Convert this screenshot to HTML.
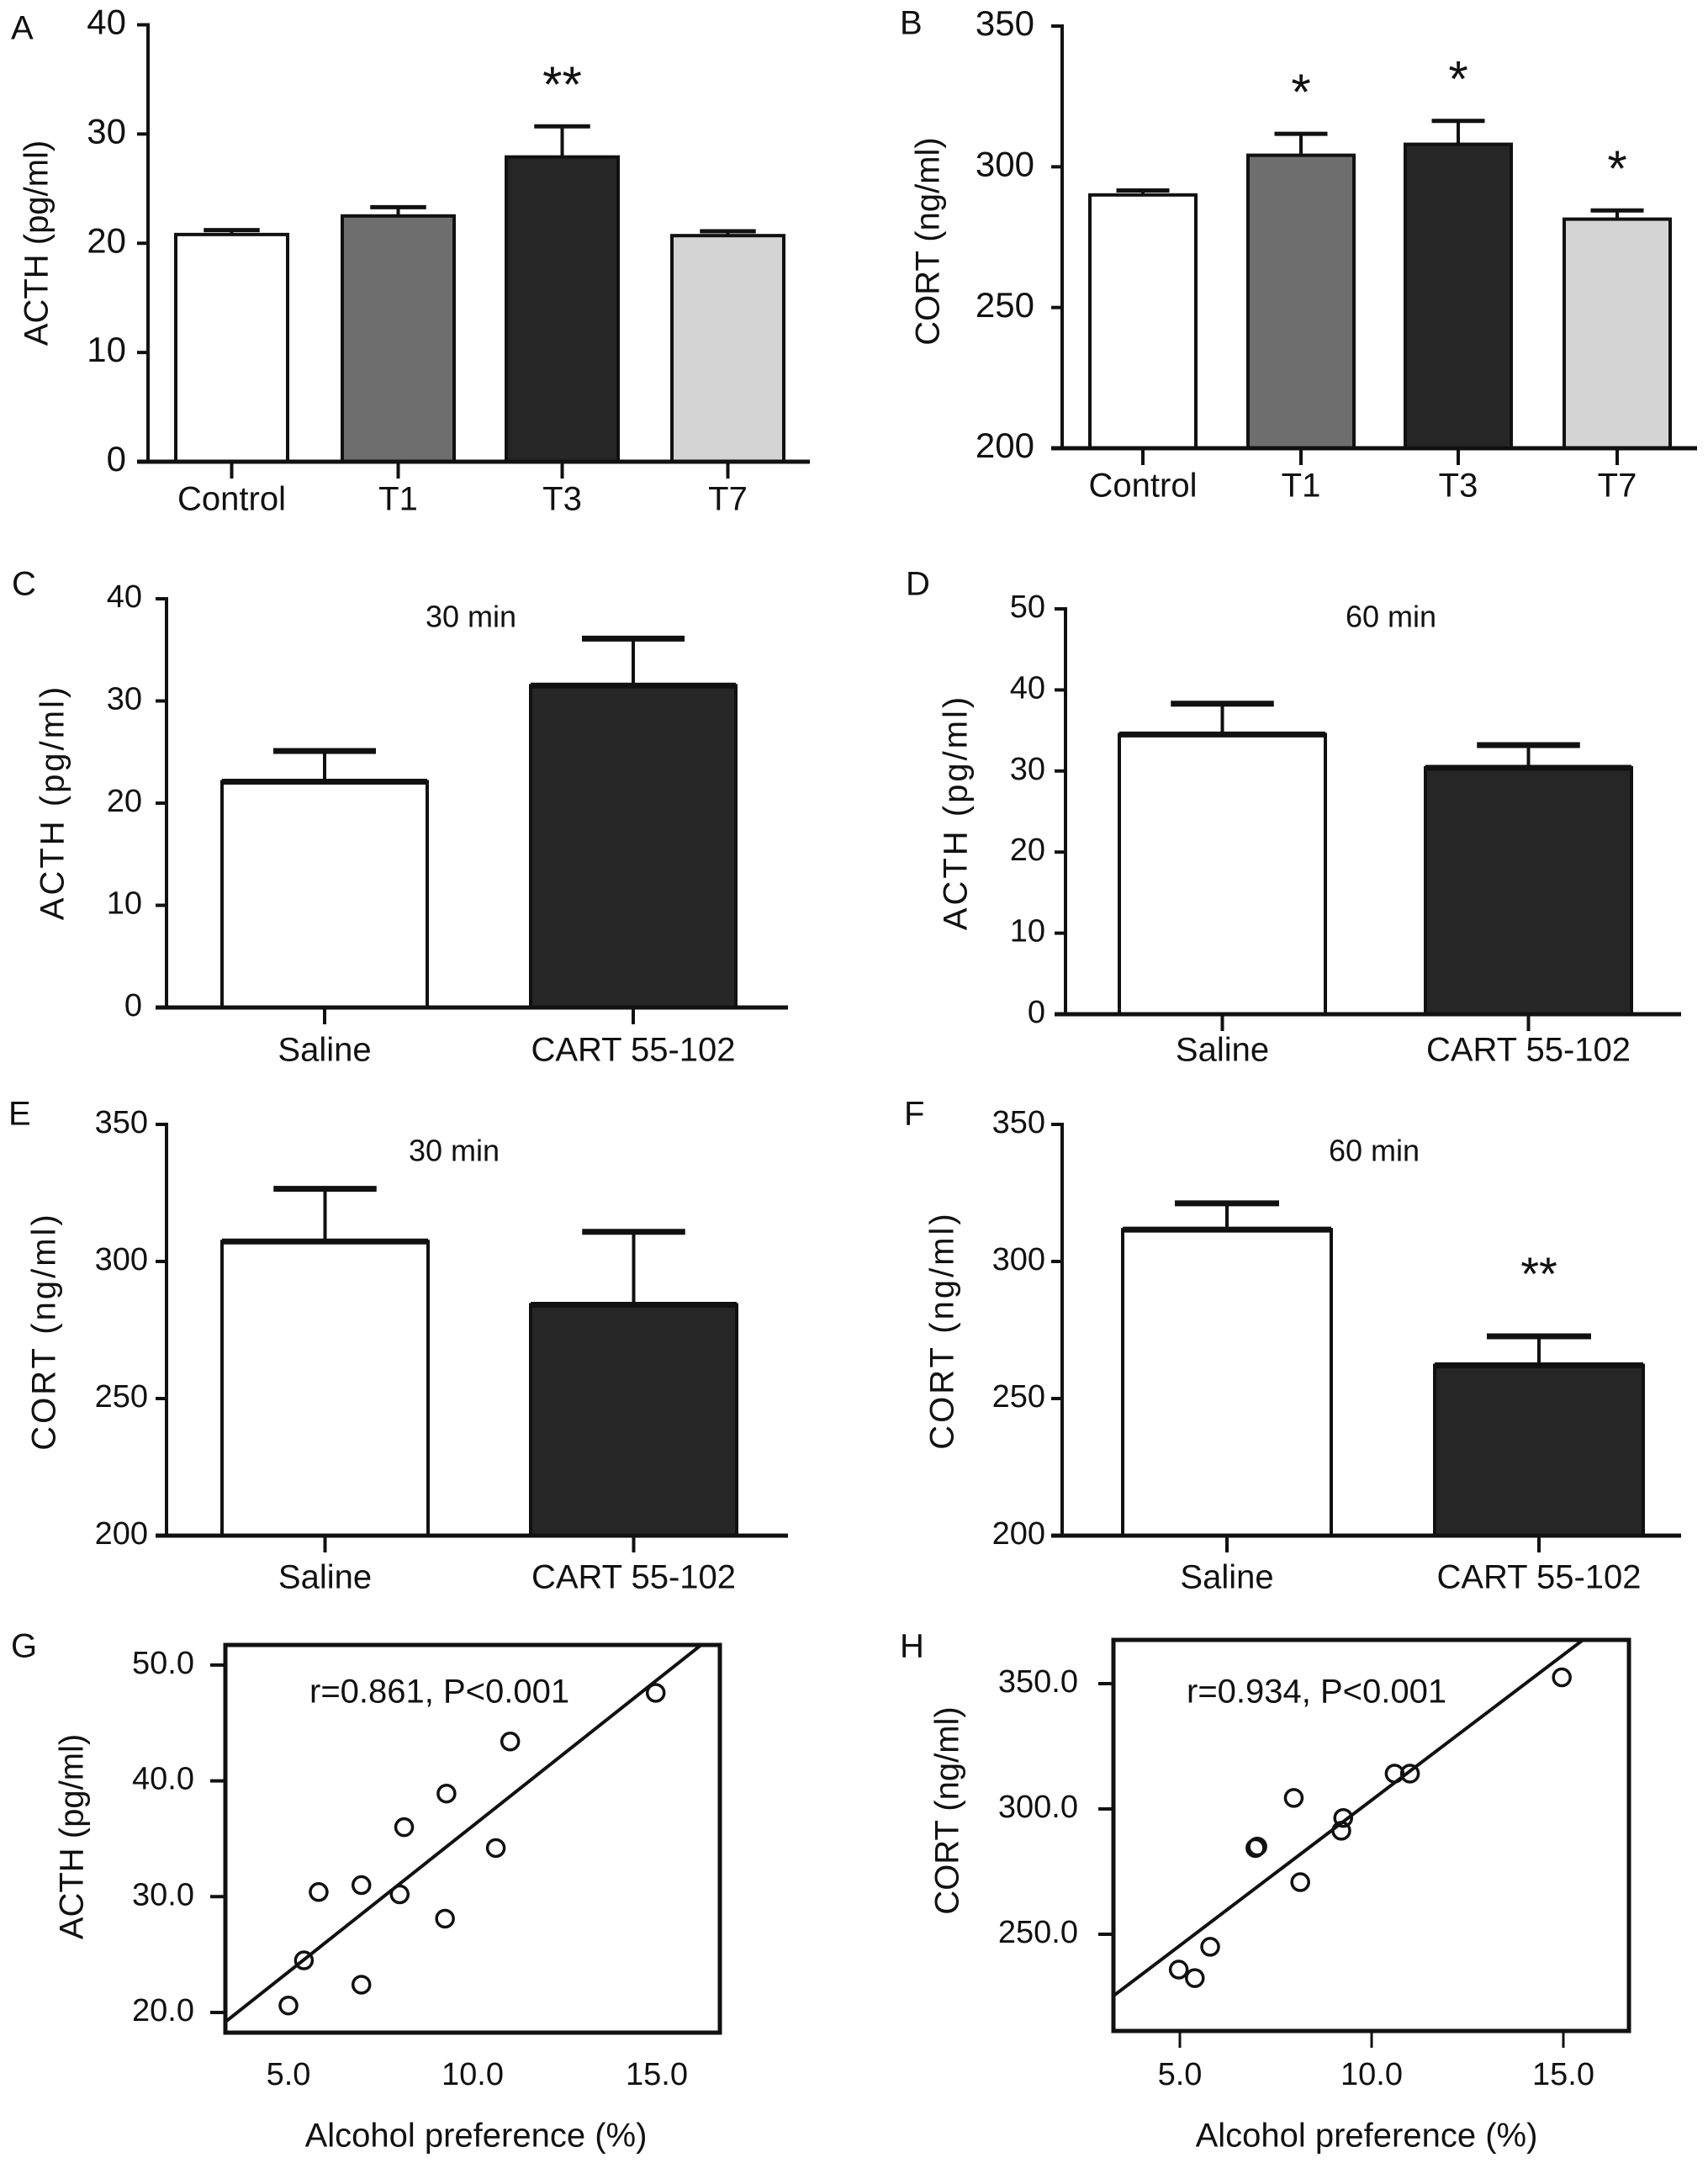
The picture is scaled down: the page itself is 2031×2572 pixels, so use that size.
<!DOCTYPE html>
<html><head><meta charset="utf-8">
<style>
html,body{margin:0;padding:0;background:#fff;}
svg{display:block;font-family:"Liberation Sans",Arial,sans-serif;}
</style></head>
<body>
<svg id="fig" width="2031" height="2572" viewBox="0 0 2031 2572" xmlns="http://www.w3.org/2000/svg"></svg>
<script>
// ---- Panel A data ----
const aCats = ["Control","T1","T3","T7"];
const aVals = [20.8, 22.5, 27.9, 20.7];
const aErrs = [0.4, 0.8, 2.8, 0.4];
const aStars = ["", "", "**", ""];
const aTicks = [0,10,20,30,40];
// ---- Panel B data ----
const bCats = ["Control","T1","T3","T7"];
const bVals = [290.0, 304.1, 308.0, 281.4];
const bErrs = [1.6, 7.6, 8.3, 3.1];
const bStars = ["", "*", "*", "*"];
const bTicks = [200,250,300,350];
// ---- Panel C data ----
const cCats = ["Saline","CART 55-102"];
const cVals = [22.1, 31.5];
const cErrs = [3.0, 4.6];
const cTicks = [0,10,20,30,40];
// ---- Panel D data ----
const dCats = ["Saline","CART 55-102"];
const dVals = [34.5, 30.4];
const dErrs = [3.8, 2.8];
const dTicks = [0,10,20,30,40,50];
// ---- Panel E data ----
const eCats = ["Saline","CART 55-102"];
const eVals = [307.3, 284.2];
const eErrs = [19.2, 26.6];
const eTicks = [200,250,300,350];
// ---- Panel F data ----
const fCats = ["Saline","CART 55-102"];
const fVals = [311.6, 262.1];
const fErrs = [9.6, 10.6];
const fStars = ["", "**"];
const fTicks = [200,250,300,350];
// ---- Panel G data ----
const gX = [5.0, 5.42, 5.82, 6.98, 6.98, 8.02, 8.14, 9.25, 9.29, 10.63, 11.02, 14.97];
const gY = [20.6, 24.5, 30.4, 31.0, 22.4, 30.2, 36.0, 28.1, 38.9, 34.2, 43.4, 47.6];
const gFit = [10.9, 2.52]; // intercept, slope
const gXTicks = [5,10,15];
const gYTicks = [20,30,40,50];
// ---- Panel H data ----
const hX = [4.97, 5.39, 5.79, 6.97, 7.02, 7.97, 8.14, 9.21, 9.26, 10.6, 11.0, 14.96];
const hY = [235.9, 232.5, 245.0, 284.4, 285.0, 304.4, 270.8, 291.3, 296.4, 314.1, 314.1, 352.5];
const hFit = [187.5, 11.6];
const hXTicks = [5,10,15];
const hYTicks = [250,300,350];

const NS = "http://www.w3.org/2000/svg";
const svg = document.getElementById("fig");
function mk(tag, attrs, parent, text){
  const e = document.createElementNS(NS, tag);
  for (const k in attrs) e.setAttribute(k, attrs[k]);
  if (text !== undefined) e.textContent = text;
  (parent||svg).appendChild(e);
  return e;
}
const INK = "#111";

function barPanel(p){
  const g = mk("g", {});
  
  
  const y = v => p.y0 + (v - p.ymin) * (p.y1 - p.y0) / (p.ymax - p.ymin);
  const L = mk("text", {x:p.lx, y:p.ly, "font-size":40, fill:INK, "dominant-baseline":"middle"}, g, p.letter);
  
  
  p.cats.forEach((c,i)=>{
    const bx = p.bx[i], bw = p.bw;
    const top = y(p.vals[i]);
    const r = mk("rect", {x:bx, y:top, width:bw, height:p.y0-top, fill:p.fills[i], stroke:INK, "stroke-width":4}, g);
    
    
    const cx = bx + bw/2, et = y(p.vals[i] + p.errs[i]);
    const e1 = mk("line", {x1:cx, x2:cx, y1:top, y2:et, stroke:INK, "stroke-width":4}, g);
    
    
    const e2 = mk("line", {x1:cx-bw*0.25, x2:cx+bw*0.25, y1:et, y2:et, stroke:INK, "stroke-width":p.capW||5}, g);
    
    
    if (p.thickTop){
      const tt = mk("line", {x1:bx, x2:bx+bw, y1:top, y2:top, stroke:INK, "stroke-width":7}, g);
      
      
    }
    if (p.stars && p.stars[i]){
      const s = mk("text", {x:cx, y:et - p.starGap, "font-size":p.starSize||60, fill:INK, "text-anchor":"middle", "dominant-baseline":"middle"}, g, p.stars[i]);
      
      
    }
    const xt = mk("line", {x1:cx, x2:cx, y1:p.y0, y2:p.y0+20, stroke:INK, "stroke-width":4}, g);
    
    
    const xl = mk("text", {x:cx, y:p.xLabY, "font-size":p.xFont, fill:INK, "text-anchor":"middle", "dominant-baseline":"middle"}, g, c);
    
    
  });
  const ya = mk("line", {x1:p.ax, x2:p.ax, y1:y(p.ymax)-2, y2:p.y0+2, stroke:INK, "stroke-width":4}, g);
  
  
  const xa = mk("line", {x1:p.ax-13, x2:p.xEnd, y1:p.y0, y2:p.y0, stroke:INK, "stroke-width":5}, g);
  
  
  p.ticks.forEach(t=>{
    const ty = y(t);
    const tk = mk("line", {x1:p.ax-13, x2:p.ax, y1:ty, y2:ty, stroke:INK, "stroke-width":4}, g);
    
    
    const tl = mk("text", {x:p.tlx, y:ty, "font-size":p.yFont, fill:INK, "text-anchor":"end", "dominant-baseline":"middle"}, g, String(t));
    
    
  });
  const yt = mk("text", {x:0, y:0, "font-size":40, fill:INK, "text-anchor":"middle", "dominant-baseline":"middle", "letter-spacing":p.ls||0, transform:`translate(${p.ytx},${p.yty}) rotate(-90)`}, g, p.ytitle);
  
  
  if (p.title){
    const tt = mk("text", {x:p.titleX, y:p.titleY, "font-size":36, fill:INK, "text-anchor":"middle", "dominant-baseline":"middle"}, g, p.title);
    
    
  }
}

const F4 = ["#ffffff","#6e6e6e","#262626","#d4d4d4"];
const F2 = ["#ffffff","#262626"];

barPanel({name:"panel-a", letter:"A", lx:13, ly:36, cats:aCats, vals:aVals, errs:aErrs, stars:aStars, starGap:45, ticks:aTicks,
  ymin:0, ymax:40, y0:549, y1:29.5, ax:176, xEnd:963, bx:[209,407,602,799], bw:133, fills:F4,
  tlx:150, yFont:42, xFont:40, xLabY:596, ytitle:"ACTH (pg/ml)", ytx:46, yty:289});
barPanel({name:"panel-b", letter:"B", lx:1070, ly:30, cats:bCats, vals:bVals, errs:bErrs, stars:bStars, starGap:45, ticks:bTicks,
  ymin:200, ymax:350, y0:533, y1:31, ax:1263, xEnd:2018, bx:[1296,1484,1671,1860], bw:126, fills:F4,
  tlx:1230, yFont:42, xFont:40, xLabY:580, ytitle:"CORT (ng/ml)", ytx:1106, yty:287});
barPanel({name:"panel-c", letter:"C", lx:14, ly:697, cats:cCats, vals:cVals, errs:cErrs, ticks:cTicks, thickTop:true, capW:7,
  ymin:0, ymax:40, y0:1198, y1:712, ax:198, xEnd:937, bx:[264,631], bw:244, fills:F2,
  tlx:169, yFont:38, xFont:40, xLabY:1251, ytitle:"ACTH (pg/ml)", ytx:65, yty:954, ls:3,
  title:"30 min", titleX:560, titleY:736});
barPanel({name:"panel-d", letter:"D", lx:1077, ly:697, cats:dCats, vals:dVals, errs:dErrs, ticks:dTicks, thickTop:true, capW:7,
  ymin:0, ymax:50, y0:1206, y1:724, ax:1267, xEnd:1999, bx:[1331,1695], bw:245, fills:F2,
  tlx:1243, yFont:38, xFont:40, xLabY:1251, ytitle:"ACTH (pg/ml)", ytx:1139, yty:966, ls:3,
  title:"60  min", titleX:1654, titleY:736});
barPanel({name:"panel-e", letter:"E", lx:10, ly:1327, cats:eCats, vals:eVals, errs:eErrs, ticks:eTicks, thickTop:true, capW:7,
  ymin:200, ymax:350, y0:1826, y1:1337, ax:198, xEnd:937, bx:[264,631], bw:245, fills:F2,
  tlx:176, yFont:38, xFont:40, xLabY:1878, ytitle:"CORT (ng/ml)", ytx:55, yty:1583, ls:3,
  title:"30 min", titleX:540, titleY:1371});
barPanel({name:"panel-f", letter:"F", lx:1075, ly:1327, cats:fCats, vals:fVals, errs:fErrs, stars:fStars, starGap:70, starSize:56, ticks:fTicks, thickTop:true, capW:7,
  ymin:200, ymax:350, y0:1826, y1:1337, ax:1263, xEnd:1999, bx:[1335,1706], bw:248, fills:F2,
  tlx:1243, yFont:38, xFont:40, xLabY:1878, ytitle:"CORT (ng/ml)", ytx:1123, yty:1582, ls:3,
  title:"60  min", titleX:1634, titleY:1371});

function scatterPanel(p){
  const g = mk("g", {});
  
  
  const X = v => p.x5 + (v - 5) * p.xu;
  const Y = v => p.yRefPx - (v - p.yRef) * p.yu;
  const L = mk("text", {x:p.lx, y:p.ly, "font-size":40, fill:INK, "dominant-baseline":"middle"}, g, p.letter);
  
  
  const cp = mk("clipPath", {id:"clip-"+p.name}, g);
  mk("rect", {x:p.bl, y:p.bt, width:p.br-p.bl, height:p.bb-p.bt}, cp);
  const x0 = (p.bl - p.x5)/p.xu + 5, x1 = (p.br - p.x5)/p.xu + 5;
  const fl = mk("line", {x1:X(x0), y1:Y(p.fit[0]+p.fit[1]*x0), x2:X(x1), y2:Y(p.fit[0]+p.fit[1]*x1), stroke:INK, "stroke-width":4, "clip-path":`url(#clip-${p.name})`}, g);
  
  
  p.xs.forEach((xv,i)=>{
    const c = mk("circle", {cx:X(xv), cy:Y(p.ys[i]), r:10, fill:"none", stroke:INK, "stroke-width":3.5}, g);
    
    
  });
  const box = mk("rect", {x:p.bl, y:p.bt, width:p.br-p.bl, height:p.bb-p.bt, fill:"none", stroke:INK, "stroke-width":5}, g);
  
  
  p.yTicks.forEach(t=>{
    const ty = Y(t);
    const tk = mk("line", {x1:p.bl-18, x2:p.bl, y1:ty, y2:ty, stroke:INK, "stroke-width":4}, g);
    
    
    const tl = mk("text", {x:p.tlx, y:ty, "font-size":38, fill:INK, "text-anchor":"end", "dominant-baseline":"middle"}, g, t.toFixed(1));
    
    
  });
  p.xTicks.forEach(t=>{
    const tx = X(t);
    if (p.xTickMarks){
      const tk = mk("line", {x1:tx, x2:tx, y1:p.bb, y2:p.bb+20, stroke:INK, "stroke-width":3}, g);
      
      
    }
    const tl = mk("text", {x:tx, y:p.xly, "font-size":38, fill:INK, "text-anchor":"middle", "dominant-baseline":"middle"}, g, t.toFixed(1));
    
    
  });
  const xt = mk("text", {x:p.xtx, y:p.xty, "font-size":40, fill:INK, "text-anchor":"middle", "dominant-baseline":"middle"}, g, "Alcohol preference (%)");
  
  
  const yt = mk("text", {x:0, y:0, "font-size":40, fill:INK, "text-anchor":"middle", "dominant-baseline":"middle", transform:`translate(${p.ytx},${p.yty}) rotate(-90)`}, g, p.ytitle);
  
  
  const an = mk("text", {x:p.anx, y:p.any, "font-size":40, fill:INK, "dominant-baseline":"middle"}, g, p.ann);
  
  
}

scatterPanel({name:"panel-g", letter:"G", lx:13, ly:1960, xs:gX, ys:gY, fit:gFit, xTicks:gXTicks, yTicks:gYTicks,
  bl:268, br:856, bt:1956, bb:2417, x5:343, xu:43.8, yRef:20, yRefPx:2393, yu:13.77,
  tlx:231, xly:2469, xtx:566, xty:2542, ytitle:"ACTH (pg/ml)", ytx:88, yty:2184,
  ann:"r=0.861, P<0.001", anx:368, any:2014, xTickMarks:false});
scatterPanel({name:"panel-h", letter:"H", lx:1070, ly:1960, xs:hX, ys:hY, fit:hFit, xTicks:hXTicks, yTicks:hYTicks,
  bl:1324, br:1937, bt:1950, bb:2415, x5:1403, xu:45.6, yRef:250, yRefPx:2300, yu:2.98,
  tlx:1282, xly:2469, xtx:1625, xty:2542, ytitle:"CORT (ng/ml)", ytx:1129, yty:2153,
  ann:"r=0.934, P<0.001", anx:1411, any:2014, xTickMarks:true});
</script>
</body></html>
